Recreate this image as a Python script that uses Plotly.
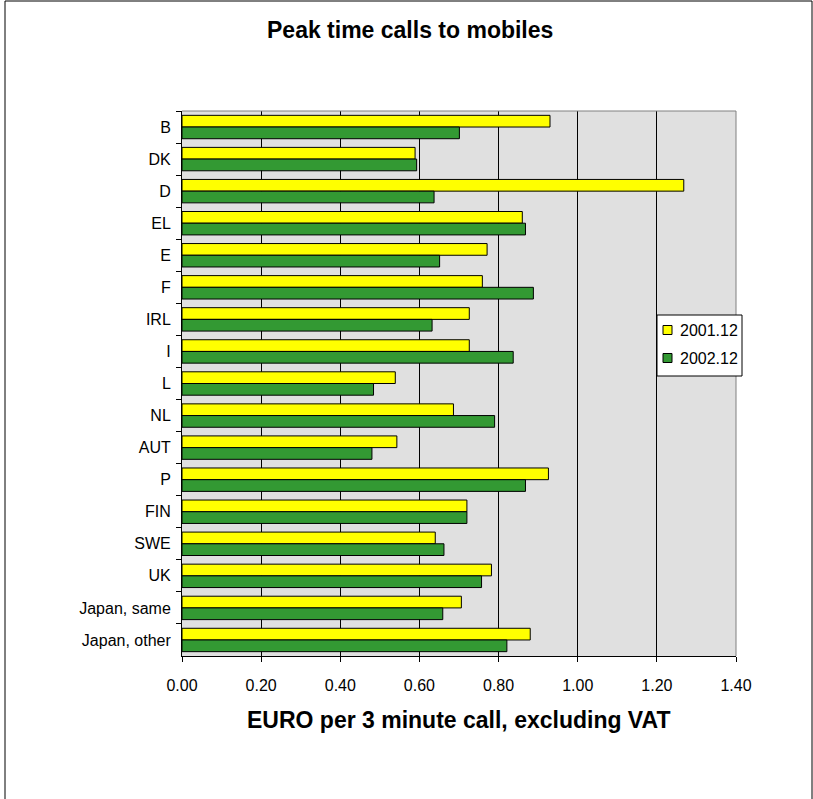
import plotly.graph_objects as go

categories = ["B", "DK", "D", "EL", "E", "F", "IRL", "I", "L", "NL", "AUT", "P",
              "FIN", "SWE", "UK", "Japan, same", "Japan, other"]
series_2001 = [0.930, 0.589, 1.268, 0.860, 0.771, 0.759, 0.726, 0.726, 0.539, 0.686,
               0.543, 0.926, 0.720, 0.640, 0.782, 0.706, 0.880]
series_2002 = [0.701, 0.593, 0.637, 0.868, 0.651, 0.888, 0.632, 0.837, 0.484, 0.790,
               0.480, 0.868, 0.720, 0.662, 0.757, 0.659, 0.821]
series_names = ["2001.12", "2002.12"]
series_colors = ["#FFFF00", "#339933"]
x_ticks = [0.0, 0.2, 0.4, 0.6, 0.8, 1.0, 1.2, 1.4]
x_tick_labels = ["0.00", "0.20", "0.40", "0.60", "0.80", "1.00", "1.20", "1.40"]

W, H = 813, 799
L, R, T, B = 182, 736, 111, 656

def px(x):
    return (x - L) / (R - L)

def py(y):
    return (B - y) / (B - T)

FONT = "Liberation Sans, Arial, sans-serif"

fig = go.Figure()
for name, vals, col in zip(series_names, [series_2001, series_2002], series_colors):
    fig.add_trace(go.Bar(y=categories, x=vals, orientation="h", name=name,
                         marker=dict(color=col, line=dict(color="#000000", width=1))))

# custom legend (box, swatches, labels)
leg_x0, leg_x1, leg_y0, leg_y1 = 657, 742, 315, 376
entry_y = [330, 358]
shapes = [
    dict(type="line", xref="paper", yref="paper", x0=0, x1=1, y0=1, y1=1,
         line=dict(color="#808080", width=1), layer="above"),
    dict(type="line", xref="paper", yref="paper", x0=1, x1=1, y0=0, y1=1,
         line=dict(color="#808080", width=1), layer="above"),
    dict(type="rect", xref="paper", yref="paper", x0=px(5), x1=px(812),
         y0=py(805), y1=py(1), line=dict(color="black", width=1),
         fillcolor="rgba(0,0,0,0)", layer="above"),
    dict(type="rect", xref="paper", yref="paper", x0=px(leg_x0), x1=px(leg_x1),
         y0=py(leg_y1), y1=py(leg_y0), line=dict(color="black", width=1),
         fillcolor="white", layer="above"),
]
annotations = [
    dict(text="<b>Peak time calls to mobiles</b>", xref="paper", yref="paper",
         x=px(410), y=py(30), xanchor="center", yanchor="middle",
         showarrow=False, font=dict(size=23, family=FONT)),
    dict(text="<b>EURO per 3 minute call, excluding VAT</b>", xref="paper", yref="paper",
         x=px(458), y=py(720), xanchor="center", yanchor="middle",
         showarrow=False, font=dict(size=23, family=FONT)),
]
for name, col, ey in zip(series_names, series_colors, entry_y):
    shapes.append(dict(type="rect", xref="paper", yref="paper",
                       x0=px(663), x1=px(672), y0=py(ey + 4.5), y1=py(ey - 4.5),
                       line=dict(color="black", width=1), fillcolor=col, layer="above"))
    annotations.append(dict(text=name, xref="paper", yref="paper",
                            x=px(678), y=py(ey), xanchor="left", yanchor="middle",
                            showarrow=False, font=dict(size=16, family=FONT)))

fig.update_layout(
    width=W, height=H,
    margin=dict(l=L, r=W - R, t=T, b=H - B, autoexpand=False),
    paper_bgcolor="white", plot_bgcolor="#E0E0E0",
    barmode="group", bargap=0.27, bargroupgap=0,
    font=dict(family=FONT, size=16, color="black"),
    showlegend=False,
    xaxis=dict(range=[0, 1.4], tickvals=x_ticks, ticktext=x_tick_labels,
               showgrid=True, gridcolor="black", gridwidth=1,
               showline=True, linecolor="black", linewidth=1,
               ticks="outside", ticklen=5, tickcolor="black",
               ticklabelstandoff=10, zeroline=False, fixedrange=True),
    yaxis=dict(categoryorder="array", categoryarray=categories, autorange="reversed",
               showline=True, linecolor="black", linewidth=1,
               ticks="outside", ticklen=5, tickcolor="black", tickson="boundaries",
               showgrid=False, ticklabelstandoff=7, fixedrange=True),
    annotations=annotations,
    shapes=shapes,
)

fig.write_html("out.html", config={"displayModeBar": False},
               post_script="document.body.style.margin='0px';document.body.style.overflow='hidden';")
